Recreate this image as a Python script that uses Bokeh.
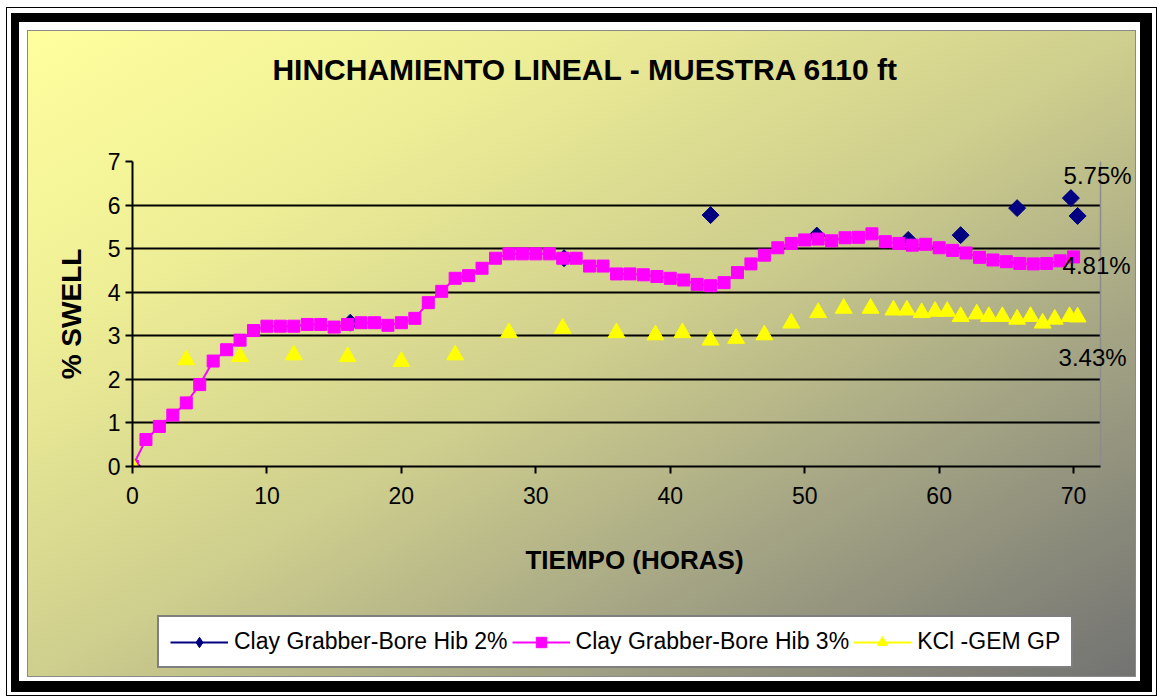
import math
from bokeh.plotting import figure
from bokeh.layouts import column
from bokeh.models import (Range1d, SingleIntervalTicker, FixedTicker, ColumnDataSource,
                          Legend, LegendItem, Label, Grid)
from bokeh.embed import file_html
from bokeh.resources import INLINE

# ---------------- data ----------------
TITLE = "HINCHAMIENTO LINEAL - MUESTRA 6110 ft"
X_LABEL = "TIEMPO (HORAS)"
Y_LABEL = "% SWELL"
SERIES_NAMES = ["Clay Grabber-Bore Hib 2%", "Clay Grabber-Bore Hib 3%", "KCl -GEM GP"]

cg2_x = [0, 16.2, 32.1, 43, 50.9, 57.7, 61.6, 65.8, 69.8, 70.3]
cg2_y = [0, 3.3, 4.78, 5.77, 5.3, 5.2, 5.31, 5.93, 6.16, 5.75]

cg3_x = list(range(0, 71))
cg3_y = [0, 0.62, 0.92, 1.18, 1.46, 1.88, 2.42, 2.68, 2.9, 3.12,
         3.22, 3.22, 3.22, 3.26, 3.26, 3.2, 3.26, 3.3, 3.3, 3.24,
         3.3, 3.4, 3.76, 4.02, 4.32, 4.38, 4.55, 4.78, 4.88, 4.88,
         4.88, 4.88, 4.78, 4.78, 4.6, 4.6, 4.42, 4.42, 4.4, 4.36,
         4.32, 4.28, 4.18, 4.15, 4.22, 4.45, 4.65, 4.85, 5.02, 5.12,
         5.2, 5.22, 5.18, 5.25, 5.26, 5.34, 5.16, 5.12, 5.08, 5.1,
         5.02, 4.96, 4.9, 4.8, 4.74, 4.7, 4.66, 4.65, 4.66, 4.72,
         4.81]

kcl_x = [0, 4, 8, 12, 16, 20, 24, 28, 32, 36, 38.9, 40.9, 43, 44.9, 47, 49, 51,
         52.9, 54.9, 56.6, 57.6, 58.7, 59.7, 60.6, 61.6, 62.8, 63.7, 64.7, 65.8,
         66.8, 67.7, 68.6, 69.7, 70.3]
kcl_y = [0, 2.45, 2.52, 2.56, 2.52, 2.41, 2.56, 3.07, 3.17, 3.07, 3.02, 3.07, 2.9,
         2.94, 3.02, 3.29, 3.53, 3.63, 3.63, 3.59, 3.59, 3.53, 3.56, 3.56, 3.44,
         3.5, 3.44, 3.44, 3.38, 3.44, 3.29, 3.38, 3.44, 3.43]

X_MAX = 72          # end of the plot area (axis maximum)
Y_MAX = 7
X_VIEW_END = 74.68  # visible extent so the end labels fit right of the plot area

# ---------------- styling / layout constants ----------------
FONT = "Liberation Sans"
NAVY = "#000080"
MAGENTA = "#FF00FF"
YELLOW = "#FFFF00"
BORDER_GRAY = "#8c8c8c"
W = 1109
FRAME_W = 1004      # frames of the stacked figures are aligned by the column layout
H_TOP, H_MAIN, H_BOT = 111, 449, 87


def blank(h):
    f = figure(width=W, height=h, output_backend="svg", toolbar_location=None,
               x_range=Range1d(0, FRAME_W), y_range=Range1d(0, h),
               x_axis_type=None, y_axis_type=None, min_border=0)
    f.border_fill_alpha = 0
    f.background_fill_alpha = 0
    f.outline_line_color = None
    f.grid.visible = False
    return f


# ---- title strip ----
top = blank(H_TOP)
top.add_layout(Label(x=453, y=72, text=TITLE, text_align="center", text_baseline="middle",
                     text_font=FONT, text_font_size="30px", text_font_style="bold",
                     text_color="black"))

# ---- main plot ----
p = figure(width=W, height=H_MAIN, output_backend="svg", toolbar_location=None,
           x_range=Range1d(0, X_VIEW_END), y_range=Range1d(0, Y_MAX),
           min_border_left=105, min_border_right=0, min_border_top=20,
           min_border_bottom=124)
p.border_fill_alpha = 0
p.background_fill_alpha = 0
p.outline_line_color = None

p.xaxis.ticker = SingleIntervalTicker(interval=10, num_minor_ticks=0)
p.yaxis.ticker = SingleIntervalTicker(interval=1, num_minor_ticks=0)
p.xaxis.bounds = (0, X_MAX)
p.xaxis.axis_label = X_LABEL
p.yaxis.axis_label = Y_LABEL
for ax in (p.xaxis[0], p.yaxis[0]):
    ax.axis_line_color = "black"
    ax.axis_line_width = 2
    ax.major_tick_line_color = "black"
    ax.major_tick_line_width = 2
    ax.major_tick_in = 0
    ax.major_tick_out = 7
    ax.minor_tick_line_color = None
    ax.major_label_text_font = FONT
    ax.major_label_text_font_size = "23px"
    ax.major_label_text_color = "black"
    ax.axis_label_text_font = FONT
    ax.axis_label_text_font_style = "bold"
    ax.axis_label_text_color = "black"
p.xaxis.axis_label_text_font_size = "26px"
p.yaxis.axis_label_text_font_size = "28px"
p.xaxis.major_label_standoff = 13
p.yaxis.major_label_standoff = 5
p.xaxis.axis_label_standoff = 38
p.yaxis.axis_label_standoff = 18

p.xgrid.grid_line_color = None
p.ygrid.ticker = FixedTicker(ticks=[1, 2, 3, 4, 5, 6])
p.ygrid.cross_bounds = (0, X_MAX)
p.ygrid.grid_line_color = "black"
p.ygrid.grid_line_width = 2

# plot-area border (top and right edges)
p.add_layout(Grid(dimension=1, ticker=FixedTicker(ticks=[Y_MAX]), cross_bounds=(0, X_MAX),
                  grid_line_color=BORDER_GRAY, grid_line_width=1.5))
p.add_layout(Grid(dimension=0, ticker=FixedTicker(ticks=[X_MAX]), cross_bounds=(0, Y_MAX),
                  grid_line_color=BORDER_GRAY, grid_line_width=1.5))

src2 = ColumnDataSource(dict(x=cg2_x, y=cg2_y))
src3 = ColumnDataSource(dict(x=cg3_x, y=cg3_y))
srck = ColumnDataSource(dict(x=kcl_x, y=kcl_y))

STYLE2 = dict(marker="square", angle=math.pi / 4, size=12, color=NAVY)
STYLE3 = dict(marker="square", size=12, color=MAGENTA)
STYLEK = dict(marker="triangle", size=17, color=YELLOW)

p.scatter("x", "y", source=src2, **STYLE2)
p.line("x", "y", source=src3, line_color=MAGENTA, line_width=2)
p.scatter("x", "y", source=src3, **STYLE3)
p.scatter("x", "y", source=srck, **STYLEK)

# end-value labels
for xs, ys, xo, yo in ((cg2_x, cg2_y, 20, 40), (cg3_x, cg3_y, 23, -9), (kcl_x, kcl_y, 15, -40)):
    p.add_layout(Label(x=xs[-1], y=ys[-1], text=f"{ys[-1]:.2f}%", x_offset=xo, y_offset=yo,
                       text_align="center", text_baseline="middle", text_font=FONT,
                       text_font_size="24px", text_color="black"))

# ---- legend strip ----
bot = blank(H_BOT)
# the series are plotted on an off-screen range here; only their legend icons show
bot.extra_y_ranges = {"offscreen": Range1d(-200, -100)}
LEG2 = dict(marker="diamond", size=12, color=NAVY)
items = []
for name, src, col, sty in ((SERIES_NAMES[0], src2, NAVY, LEG2),
                            (SERIES_NAMES[1], src3, MAGENTA, STYLE3),
                            (SERIES_NAMES[2], srck, YELLOW, STYLEK)):
    ln = bot.line("x", "y", source=src, y_range_name="offscreen", line_color=col, line_width=2)
    sc = bot.scatter("x", "y", source=src, y_range_name="offscreen", **sty)
    items.append(LegendItem(label=name, renderers=[ln, sc]))

legend = Legend(items=items, orientation="horizontal", location=(25, 9))
legend.label_text_font = FONT
legend.label_text_font_size = "23px"
legend.label_text_color = "black"
legend.glyph_width = 58
legend.glyph_height = 26
legend.label_standoff = 6
legend.spacing = 4
legend.padding = 11
legend.margin = 0
legend.border_line_color = "black"
legend.border_line_width = 2
legend.background_fill_color = "white"
legend.background_fill_alpha = 1
bot.add_layout(legend, "center")

lay = column(top, p, bot, spacing=0)
lay.margin = (30, 0, 0, 27)
lay.styles = {
    "background-image": "linear-gradient(to bottom right, #FFFF9E 0%, #EDED96 25%, #CFCF8E 50%, #A5A585 72%, #727272 100%)",
    "box-shadow": ("inset 0 0 0 1px #8a8a8a, -2px -2px 0 6px #ffffff, 0 -1px 0 16px #000000, "
                   "0 -2px 0 20px #ffffff, 0 -2px 0 21px #000000"),
}

open("out.html", "w").write(file_html(lay, INLINE, title="chart"))
